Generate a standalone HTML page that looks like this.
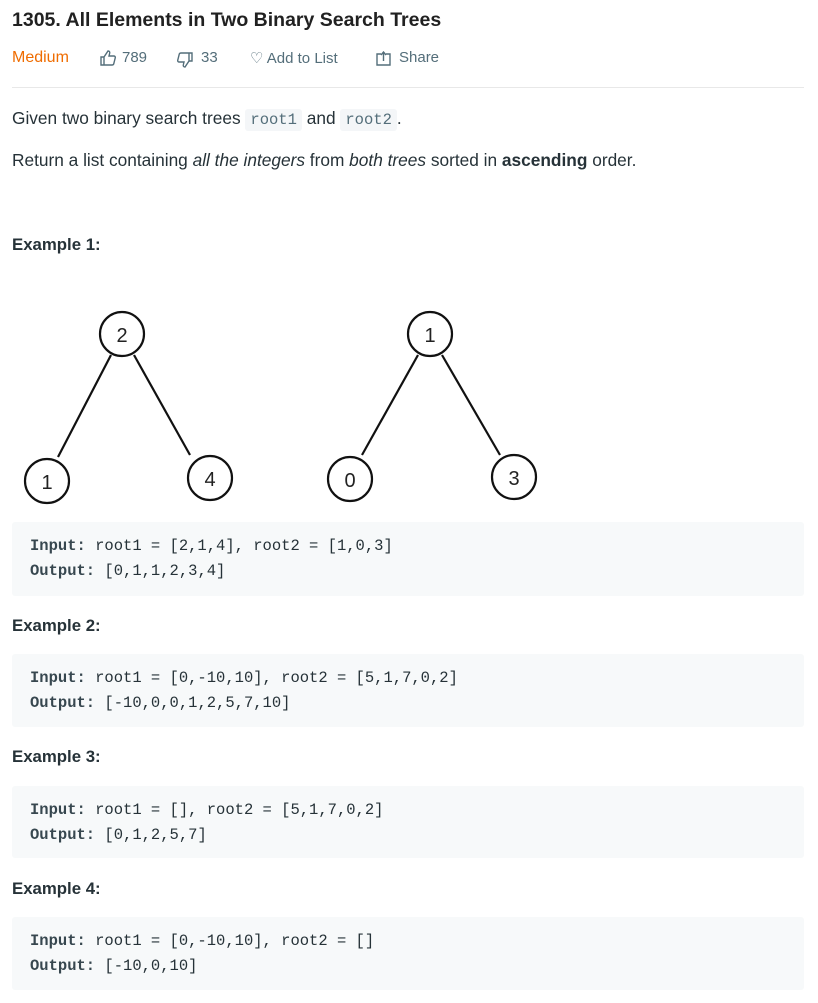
<!DOCTYPE html>
<html><head><meta charset="utf-8"><style>
body{margin:0;width:818px;height:1003px;background:#fff;font-family:"Liberation Sans",sans-serif;color:#263238;position:relative;overflow:hidden}
.a{position:absolute;white-space:nowrap}
.t{left:12px;top:9px;font-size:19.5px;font-weight:bold;color:#212121}
.m{top:49px;font-size:15px;color:#546e7a}
.p{left:12px;font-size:17.3px;color:#263238}
code{font-family:"Liberation Mono",monospace;font-size:15.5px;background:#f4f6f8;color:#546e7a;padding:2px 5px;border-radius:3px}
.h{left:12px;font-size:16.8px;font-weight:bold;color:#263238}
.pre{position:absolute;left:12px;width:792px;background:#f7f9fa;border-radius:3px;font-family:"Liberation Mono",monospace;font-size:15.5px;color:#263238;line-height:25px;padding:12px 18px;box-sizing:border-box}
.pre b{color:#37474f}
</style></head><body>
<div class="a t">1305. All Elements in Two Binary Search Trees</div>
<div class="a m" style="left:12px;color:#ef6c00;font-size:16px">Medium</div>
<svg class="a" style="left:100px;top:50px" width="16" height="16" viewBox="0 0 16 16" fill="none" stroke="#546e7a" stroke-width="1.4"><path d="M1 7h3v8H1zM4 7l4-6c1.5 0 2 1 1.6 2.5L9 6h5c1 0 1.5 1 1.2 2l-1.5 6c-.3.8-1 1-1.7 1H4"/></svg>
<div class="a m" style="left:122px">789</div>
<svg class="a" style="left:177px;top:52px" width="16" height="16" viewBox="0 0 16 16" fill="none" stroke="#546e7a" stroke-width="1.4"><g transform="rotate(180 8 8)"><path d="M1 7h3v8H1zM4 7l4-6c1.5 0 2 1 1.6 2.5L9 6h5c1 0 1.5 1 1.2 2l-1.5 6c-.3.8-1 1-1.7 1H4"/></g></svg>
<div class="a m" style="left:201px">33</div>
<div class="a m" style="left:250px">♡ Add to List</div>
<svg class="a" style="left:376px;top:51px" width="15" height="15" viewBox="0 0 15 15" fill="none" stroke="#546e7a" stroke-width="1.4"><path d="M5 3H1v11h13V3h-4M7.5 10V1M5 4l2.5-3L10 4"/></svg>
<div class="a m" style="left:399px">Share</div>
<div class="a" style="left:12px;top:87px;width:792px;height:1px;background:#e8e8e8"></div>
<div class="a p" style="top:108px">Given two binary search trees <code>root1</code> and <code>root2</code>.</div>
<div class="a p" style="top:150px">Return a list containing <i>all the integers</i> from <i>both trees</i> sorted in <b>ascending</b> order.</div>
<div class="a h" style="top:235px">Example 1:</div>
<svg class="a" style="left:0;top:300px" width="560" height="210" viewBox="0 300 560 210">
<g stroke="#111" stroke-width="2.2" fill="#fff">
<line x1="111" y1="355" x2="58" y2="457"/><line x1="134" y1="355" x2="190" y2="455"/>
<line x1="418" y1="355" x2="362" y2="455"/><line x1="442" y1="355" x2="500" y2="455"/>
<circle cx="122" cy="334" r="22"/><circle cx="47" cy="481" r="22"/><circle cx="210" cy="478" r="22"/>
<circle cx="430" cy="334" r="22"/><circle cx="350" cy="479" r="22"/><circle cx="514" cy="477" r="22"/>
</g>
<g font-family="Liberation Sans,sans-serif" font-size="20" text-anchor="middle" fill="#222">
<text x="122" y="342">2</text><text x="47" y="489">1</text><text x="210" y="486">4</text>
<text x="430" y="342">1</text><text x="350" y="487">0</text><text x="514" y="485">3</text>
</g></svg>
<div class="pre" style="top:522px;height:74px"><b>Input:</b> root1 = [2,1,4], root2 = [1,0,3]<br><b>Output:</b> [0,1,1,2,3,4]</div>
<div class="a h" style="top:616px">Example 2:</div>
<div class="pre" style="top:654px;height:73px"><b>Input:</b> root1 = [0,-10,10], root2 = [5,1,7,0,2]<br><b>Output:</b> [-10,0,0,1,2,5,7,10]</div>
<div class="a h" style="top:747px">Example 3:</div>
<div class="pre" style="top:786px;height:72px"><b>Input:</b> root1 = [], root2 = [5,1,7,0,2]<br><b>Output:</b> [0,1,2,5,7]</div>
<div class="a h" style="top:879px">Example 4:</div>
<div class="pre" style="top:917px;height:73px"><b>Input:</b> root1 = [0,-10,10], root2 = []<br><b>Output:</b> [-10,0,10]</div>
</body></html>
